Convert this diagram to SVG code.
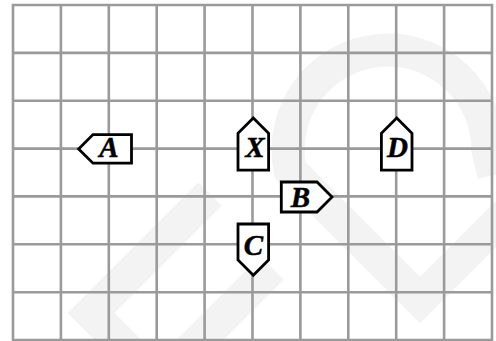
<svg xmlns="http://www.w3.org/2000/svg" width="496" height="341" viewBox="0 0 496 341">
<style>
.wm{fill:none;stroke:#f3f3f3;stroke-width:33;stroke-linejoin:miter}
.grid{fill:none;stroke:#9a9a9a;stroke-width:2.6;stroke-linecap:square}
.node{fill:#ffffff;stroke:#000000;stroke-width:2.8;stroke-linejoin:miter}
.lbl{font-family:"Liberation Serif","DejaVu Serif",serif;font-weight:bold;font-style:italic;font-size:29px;fill:#000000;stroke:#000000;stroke-width:0.5;text-anchor:middle}
</style>
<rect width="496" height="341" fill="#ffffff"/>
<g id="watermark">
<path class="wm" d="M128,350 L91,313 L210,194"/>
<path class="wm" d="M190,350 L272,268"/>
<path class="wm" d="M520,200 L420,300 L290,170 A100 100 0 1 1 488,150 L494,175"/>
</g>
<g id="grid">
<path class="grid" d="M13,5V340 M60.9,5V340 M108.8,5V340 M156.7,5V340 M204.6,5V340 M252.5,5V340 M300.4,5V340 M348.3,5V340 M396.2,5V340 M444.1,5V340 M492,5V340 M13,5H492 M13,52.9H492 M13,100.7H492 M13,148.6H492 M13,196.4H492 M13,244.3H492 M13,292.2H492 M13,340H492"/>
</g>
<g id="connectors"></g>
<g id="node-A">
<path class="node" d="M131.5,134.6 L93,134.6 L78.6,148.9 L93,163.2 L131.5,163.2 Z"/>
<text class="lbl" x="109" y="157">A</text>
</g>
<g id="node-X">
<path class="node" d="M238,170.2 L238,133.3 L253.3,118 L268.6,133.3 L268.6,170.2 Z"/>
<text class="lbl" x="255" y="157">X</text>
</g>
<g id="node-D">
<path class="node" d="M381.4,170.2 L381.4,133.3 L396.7,118 L412,133.3 L412,170.2 Z"/>
<text class="lbl" x="397.5" y="157">D</text>
</g>
<g id="node-B">
<path class="node" d="M281.3,182 L317,182 L332,197 L317,212 L281.3,212 Z"/>
<text class="lbl" x="300.5" y="207">B</text>
</g>
<g id="node-C">
<path class="node" d="M238,224 L268.6,224 L268.6,260 L253.3,275.3 L238,260 Z"/>
<text class="lbl" x="253.5" y="254.5">C</text>
</g>
</svg>
